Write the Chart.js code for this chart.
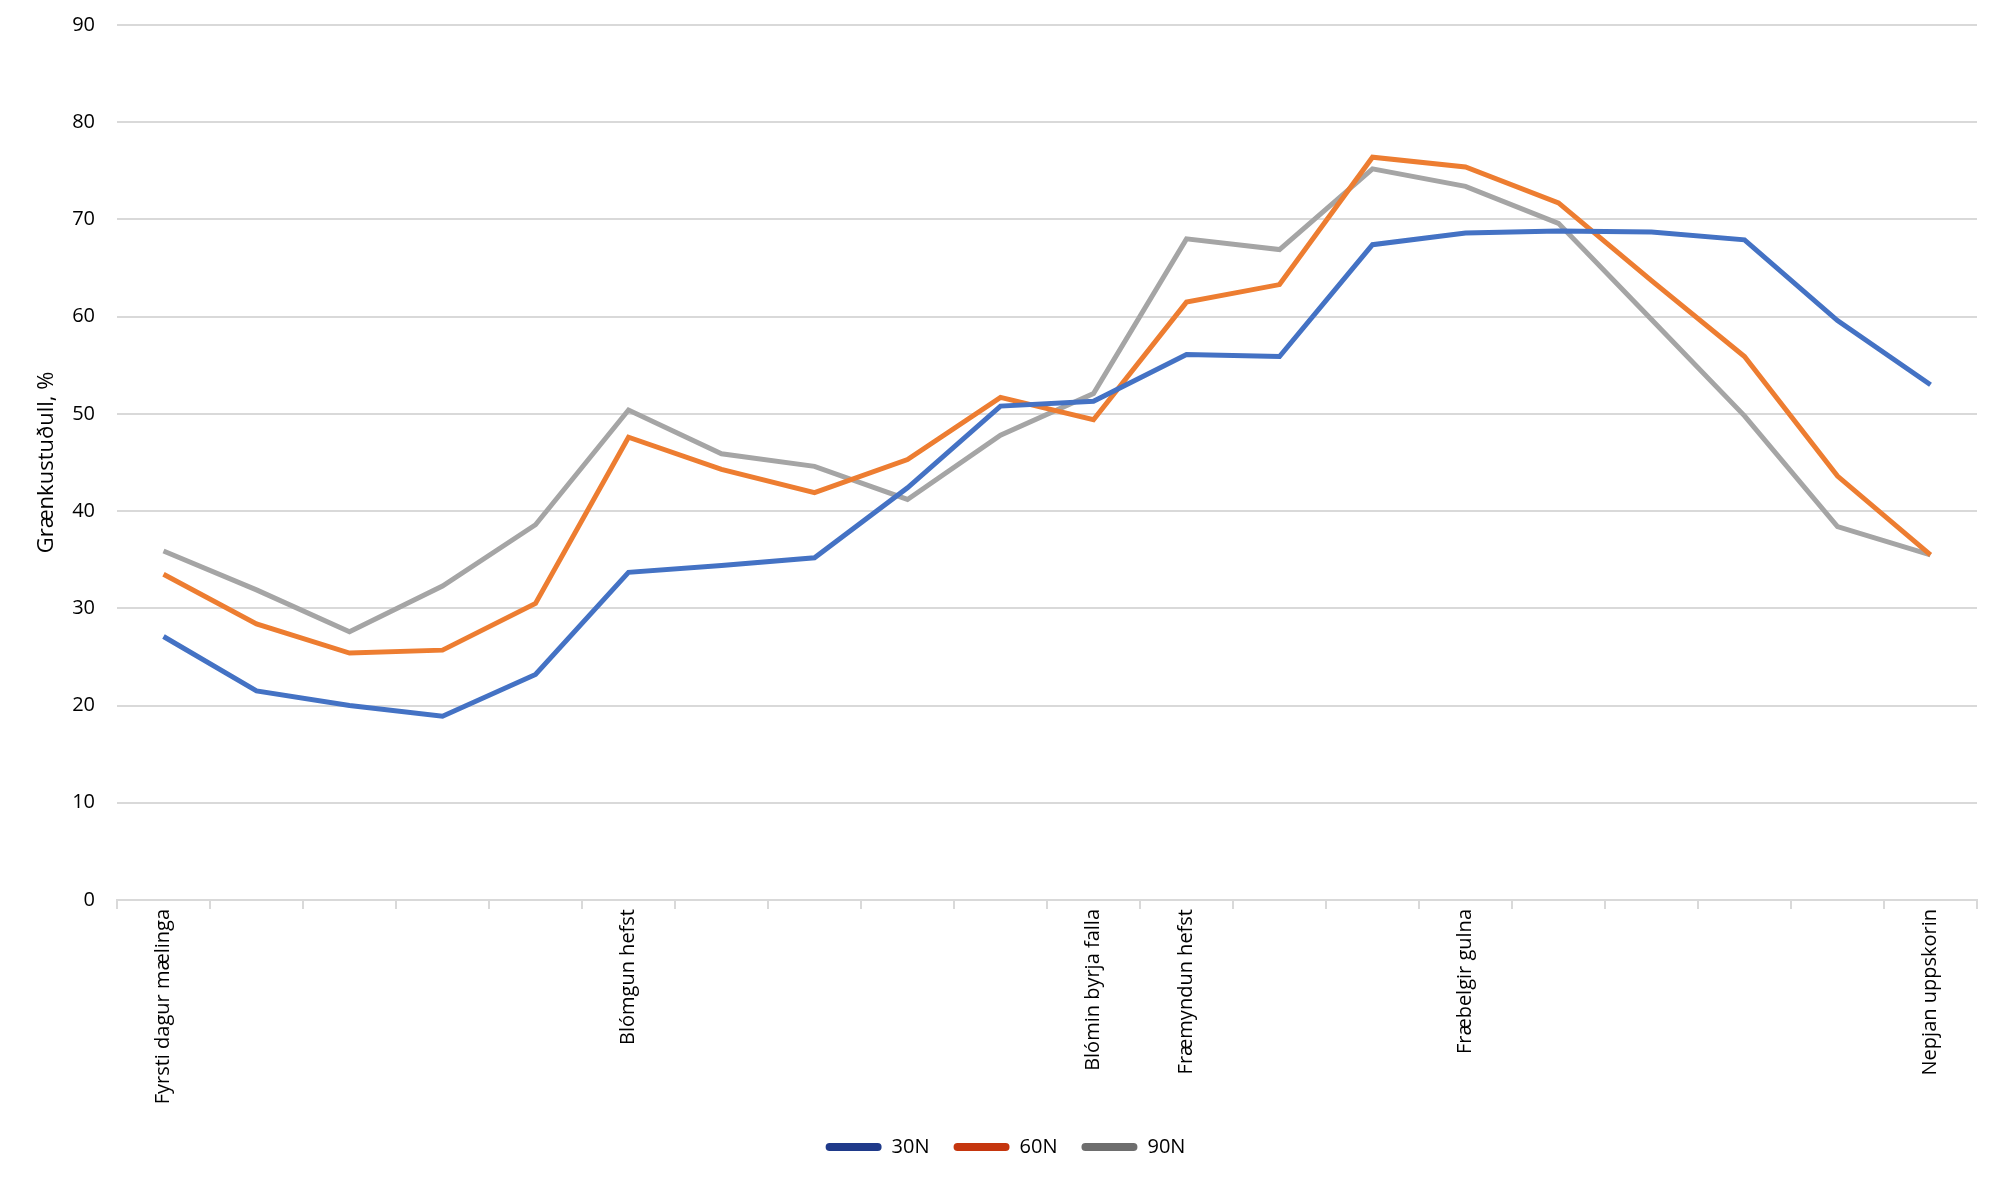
<!DOCTYPE html>
<html>
<head>
<meta charset="utf-8">
<script src="https://cdn.jsdelivr.net/npm/chart.js@4"></script>
<style>
  html, body { margin: 0; padding: 0; background: #fff; }
</style>
</head>
<body>
<canvas id="greenChart" width="2000" height="1182"></canvas>
<script>
// stages along the season, only some of them are labelled
const stages = [
  'Fyrsti dagur mælinga', '', '', '', '',
  'Blómgun hefst', '', '', '', '',
  'Blómin byrja falla', 'Fræmyndun hefst', '', '',
  'Fræbelgir gulna', '', '', '', '',
  'Nepjan uppskorin'
];

const n30 = [27.1, 21.5, 20.0, 18.9, 23.2, 33.7, 34.4, 35.2, 42.4, 50.8,
             51.3, 56.1, 55.9, 67.4, 68.6, 68.8, 68.7, 67.9, 59.6, 53.0];
const n60 = [33.5, 28.4, 25.4, 25.7, 30.5, 47.6, 44.3, 41.9, 45.3, 51.7,
             49.4, 61.5, 63.3, 76.4, 75.4, 71.7, 63.7, 55.9, 43.6, 35.5];
const n90 = [35.9, 31.9, 27.6, 32.3, 38.6, 50.4, 45.9, 44.6, 41.2, 47.8,
             52.1, 68.0, 66.9, 75.2, 73.4, 69.6, 59.7, 49.8, 38.4, 35.5];

const yTicks = [0, 10, 20, 30, 40, 50, 60, 70, 80, 90];

const seriesNames = ['30N', '60N', '90N'];
const lineColors = ['#4472C4', '#ED7D31', '#A5A5A5'];
const legendColors = ['#1F3A8A', '#C5360E', '#6E6E6E'];

const gridCol = '#D9D9D9';
const font = "'Open Sans', 'Liberation Sans', sans-serif";

const ctx = document.getElementById('greenChart');

new Chart(ctx, {
  type: 'line',
  data: {
    labels: stages,
    datasets: [n30, n60, n90].map((vals, i) => ({
      label: seriesNames[i],
      data: vals,
      borderColor: lineColors[i],
      backgroundColor: lineColors[i],
      borderWidth: 5,
      pointRadius: 0,
      tension: 0,
      fill: false
    }))
  },
  options: {
    responsive: false,
    animation: false,
    layout: {
      padding: { left: 34, right: 23, top: 25, bottom: 15 }
    },
    plugins: {
      legend: {
        position: 'bottom',
        labels: {
          font: { family: font, size: 20 },
          color: '#404040',
          boxWidth: 56,
          boxHeight: 8,
          padding: 24,
          generateLabels: (chart) => chart.data.datasets.map((ds, i) => ({
            text: ds.label,
            fillStyle: legendColors[i],
            strokeStyle: legendColors[i],
            lineWidth: 0,
            borderRadius: 4,
            datasetIndex: i
          }))
        }
      },
      tooltip: { enabled: false }
    },
    scales: {
      x: {
        offset: true,
        afterFit: (scale) => { scale.height = 213; },
        grid: {
          offset: true,
          drawOnChartArea: false,
          drawTicks: true,
          tickLength: 9,
          color: gridCol,
          lineWidth: 2
        },
        border: { color: gridCol, width: 2 },
        ticks: {
          autoSkip: false,
          minRotation: 90,
          maxRotation: 90,
          padding: 0,
          color: '#000',
          font: { family: font, size: 20 }
        }
      },
      y: {
        min: 0,
        max: 90,
        afterBuildTicks: (scale) => {
          scale.ticks = yTicks.map(v => ({ value: v }));
        },
        afterFit: (scale) => { scale.width = 83; },
        grid: {
          color: gridCol,
          lineWidth: 2,
          drawTicks: true,
          tickLength: 20,
          tickColor: 'rgba(0,0,0,0)'
        },
        border: { display: false },
        ticks: {
          padding: 2,
          color: '#000',
          font: { family: font, size: 20 }
        },
        title: {
          display: true,
          text: 'Grænkustuðull, %',
          color: '#000',
          padding: { top: 0, bottom: 0 },
          font: { family: font, size: 22 }
        }
      }
    }
  }
});
</script>
</body>
</html>
